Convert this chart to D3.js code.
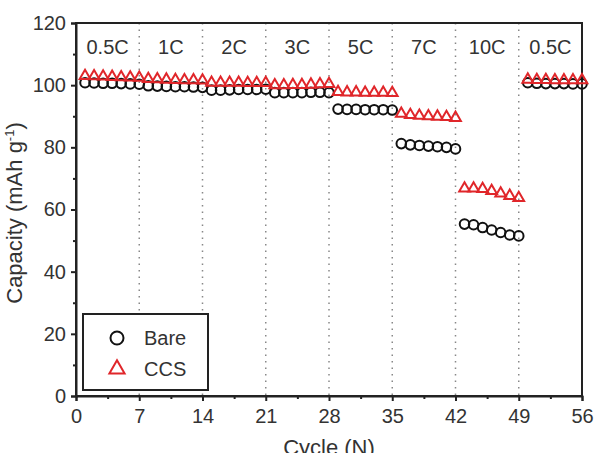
<!DOCTYPE html>
<html>
<head>
<meta charset="utf-8">
<script src="https://cdn.jsdelivr.net/npm/d3@7"></script>
<style>
  body { margin: 0; background: #fff; }
  text { font-family: "Liberation Sans", Arial, sans-serif; fill: #333; }
</style>
</head>
<body>
<script>
// rate segments
const rates = ["0.5C", "1C", "2C", "3C", "5C", "7C", "10C", "0.5C"];
const cycles = d3.range(1, 57);

// capacity per cycle (mAh g-1), 7 cycles per rate
const bare = [
  100.8, 100.7, 100.6, 100.6, 100.5, 100.4, 100.3,
  99.8, 99.7, 99.6, 99.5, 99.5, 99.4, 99.3,
  98.4, 98.4, 98.5, 98.6, 98.6, 98.6, 98.7,
  97.6, 97.6, 97.6, 97.6, 97.7, 97.7, 97.6,
  92.3, 92.2, 92.2, 92.1, 92.1, 92.1, 92.0,
  81.2, 80.8, 80.6, 80.4, 80.2, 80.0, 79.5,
  55.3, 55.1, 54.2, 53.4, 52.6, 51.8, 51.5,
  100.8, 100.6, 100.5, 100.5, 100.5, 100.4, 100.4
];
const ccs = [
  103.0, 102.9, 102.8, 102.7, 102.6, 102.5, 102.4,
  102.0, 101.9, 101.8, 101.7, 101.6, 101.6, 101.5,
  100.8, 100.8, 100.8, 100.8, 100.7, 100.7, 100.7,
  100.0, 100.0, 100.1, 100.1, 100.2, 100.3, 100.4,
  97.8, 97.7, 97.7, 97.6, 97.6, 97.6, 97.5,
  90.8, 90.4, 90.2, 90.0, 89.9, 89.8, 89.5,
  66.8, 66.8, 66.6, 66.0, 65.2, 64.4, 63.7,
  101.8, 101.7, 101.7, 101.6, 101.6, 101.6, 101.6
];
const xTicks = [0, 7, 14, 21, 28, 35, 42, 49, 56];
const yTicks = [0, 20, 40, 60, 80, 100, 120];

const W = 596, H = 453;
const m = { left: 76, right: 14, top: 23, bottom: 57 };

const svg = d3.select("body").append("svg")
  .attr("width", W).attr("height", H);

const x = d3.scaleLinear().domain([0, 56]).range([m.left, W - m.right]);
const y = d3.scaleLinear().domain([0, 120]).range([H - m.bottom, m.top]);

// dotted separators
svg.append("g").selectAll("line")
  .data(xTicks.slice(1, -1))
  .join("line")
    .attr("x1", d => x(d)).attr("x2", d => x(d))
    .attr("y1", y(120)).attr("y2", y(0))
    .attr("stroke", "#888").attr("stroke-width", 1.5)
    .attr("stroke-dasharray", "1.5,5");

// rate labels
svg.append("g").selectAll("text")
  .data(rates)
  .join("text")
    .attr("x", (d, i) => x(i * 7 + 3.5))
    .attr("y", 54)
    .attr("text-anchor", "middle")
    .attr("font-size", 20)
    .text(d => d);

// frame
svg.append("rect")
  .attr("x", x(0)).attr("y", y(120))
  .attr("width", x(56) - x(0)).attr("height", y(0) - y(120))
  .attr("fill", "none").attr("stroke", "#222").attr("stroke-width", 2);

// axes
svg.append("g")
  .attr("transform", `translate(0,${y(0)})`)
  .call(d3.axisBottom(x).tickValues(xTicks).tickSize(5).tickPadding(8));
svg.append("g")
  .attr("transform", `translate(0,${y(0)})`)
  .call(d3.axisBottom(x).tickValues(d3.range(3.5, 56, 7)).tickSize(3).tickFormat(""))
  .call(g => g.select(".domain").remove());

svg.append("g")
  .attr("transform", `translate(${x(0)},0)`)
  .call(d3.axisLeft(y).tickValues(yTicks).tickSize(5).tickPadding(5));
svg.append("g")
  .attr("transform", `translate(${x(0)},0)`)
  .call(d3.axisLeft(y).tickValues(d3.range(10, 120, 20)).tickSize(3).tickFormat(""))
  .call(g => g.select(".domain").remove());

svg.selectAll(".domain").attr("stroke", "#222").attr("stroke-width", 2);
svg.selectAll(".tick line").attr("stroke", "#222").attr("stroke-width", 2);
svg.selectAll(".tick text").attr("font-size", 20).attr("fill", "#333")
  .attr("font-family", "Liberation Sans, Arial, sans-serif");

// axis titles
svg.append("text")
  .attr("x", (x(0) + x(56)) / 2).attr("y", 455)
  .attr("text-anchor", "middle").attr("font-size", 22)
  .text("Cycle (N)");

const yt = svg.append("text")
  .attr("transform", `translate(22,213) rotate(-90)`)
  .attr("text-anchor", "middle").attr("font-size", 22);
yt.append("tspan").text("Capacity (mAh g");
yt.append("tspan").attr("dy", -8).attr("font-size", 13).text("-1");
yt.append("tspan").attr("dy", 8).text(")");

// markers
const tri = d3.symbol().type(d3.symbolTriangle).size(50);

svg.append("g").selectAll("circle")
  .data(cycles)
  .join("circle")
    .attr("cx", d => x(d)).attr("cy", (d, i) => y(bare[i]))
    .attr("r", 4.8)
    .attr("fill", "none").attr("stroke", "#111").attr("stroke-width", 2);

svg.append("g").selectAll("path")
  .data(cycles)
  .join("path")
    .attr("d", tri)
    .attr("transform", (d, i) => `translate(${x(d)},${y(ccs[i])})`)
    .attr("fill", "none").attr("stroke", "#e0262a").attr("stroke-width", 2);

// legend
const lg = svg.append("g");
lg.append("rect")
  .attr("x", 83).attr("y", 314).attr("width", 125).attr("height", 76)
  .attr("fill", "#fff").attr("stroke", "#222").attr("stroke-width", 2);
lg.append("circle").attr("cx", 117).attr("cy", 338).attr("r", 6.5)
  .attr("fill", "none").attr("stroke", "#111").attr("stroke-width", 2);
lg.append("path").attr("d", d3.symbol().type(d3.symbolTriangle).size(100)())
  .attr("transform", "translate(117,369)")
  .attr("fill", "none").attr("stroke", "#e0262a").attr("stroke-width", 2);
lg.append("text").attr("x", 144).attr("y", 345).attr("font-size", 20).text("Bare");
lg.append("text").attr("x", 144).attr("y", 376).attr("font-size", 20).text("CCS");
</script>
</body>
</html>
